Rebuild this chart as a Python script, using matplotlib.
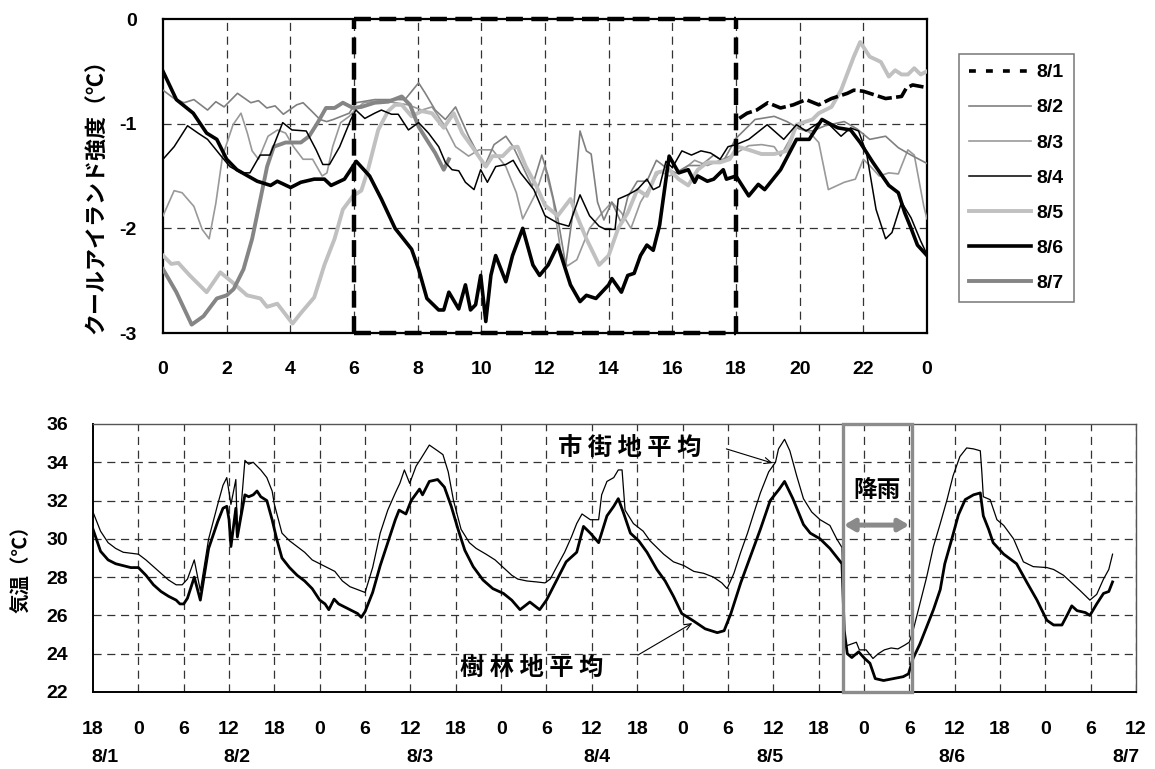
import matplotlib
matplotlib.use("Agg")
import matplotlib.pyplot as plt
from matplotlib.lines import Line2D
from matplotlib.patches import Rectangle

# ---------------- data: top chart (cool island intensity, hour of day) ----------------
t_81 = [18.1, 18.35, 18.65, 19.0, 19.4, 19.8, 20.2, 20.6, 21.0, 21.5, 21.7, 22.0, 22.3, 22.7, 23.2, 23.35, 23.55, 23.9]
v_81 = [-0.95, -0.9, -0.87, -0.8, -0.85, -0.82, -0.77, -0.82, -0.76, -0.71, -0.68, -0.69, -0.72, -0.76, -0.74, -0.66, -0.63, -0.65]

t_82 = [0.0, 0.35, 0.66, 0.97, 1.4, 1.66, 1.92, 2.34, 2.76, 3.0, 3.26, 3.52, 3.78, 4.2, 4.4, 4.67, 4.93, 5.14, 5.35, 5.6,
        5.85, 6.06, 6.65, 7.08, 7.6, 8.03, 8.24, 8.55, 8.87, 9.19, 9.6, 9.93, 10.1, 10.4, 10.77, 11.0, 11.3, 11.6, 11.9,
        12.1, 12.4, 12.65, 12.9, 13.1, 13.3, 13.45, 13.65, 13.85, 14.1, 14.4, 14.6, 14.9, 15.2, 15.5, 15.8, 16.1, 16.5,
        16.9, 17.3, 17.6, 18.0, 18.6, 19.2, 19.6, 20.0, 20.4, 20.8, 21.4, 21.8, 22.2, 22.7, 23.1, 23.5, 24.0]
v_82 = [-0.68, -0.76, -0.8, -0.77, -0.87, -0.79, -0.84, -0.71, -0.8, -0.78, -0.85, -0.83, -0.91, -0.82, -0.8, -0.88,
        -0.96, -0.98, -0.96, -0.93, -0.9, -0.8, -0.77, -0.77, -0.77, -0.61, -0.71, -0.87, -0.96, -0.84, -1.12, -1.31,
        -1.41, -1.2, -1.12, -1.22, -1.41, -1.6, -1.3, -1.5, -1.9, -2.35, -1.8, -1.07, -1.26, -1.29, -1.75, -1.92, -1.75,
        -1.95, -1.7, -1.55, -1.55, -1.35, -1.42, -1.47, -1.4, -1.4, -1.3, -1.36, -1.14, -0.96, -0.93, -0.98, -1.05,
        -1.07, -1.02, -0.98, -1.05, -1.15, -1.12, -1.23, -1.3, -1.38]

t_83 = [0.0, 0.35, 0.6, 0.97, 1.23, 1.45, 1.66, 1.87, 2.2, 2.45, 2.65, 2.8, 3.0, 3.3, 3.6, 3.85, 4.1, 4.4, 4.7, 5.0,
        5.15, 5.33, 5.58, 5.85, 6.0, 6.3, 6.8, 7.3, 7.7, 8.13, 8.45, 8.87, 9.19, 9.6, 9.93, 10.35, 10.77, 11.1, 11.3,
        11.72, 11.99, 12.25, 12.5, 12.7, 13.0, 13.4, 13.8, 14.1, 14.4, 14.7, 15.0, 15.3, 15.6, 15.9, 16.3, 16.7, 17.1,
        17.5, 17.9, 18.4, 18.8, 19.2, 19.4, 19.6, 19.9, 20.3, 20.6, 20.9, 21.4, 21.75, 22.0, 22.2, 22.5, 22.8, 23.1,
        23.4, 23.6, 23.9, 24.0]
v_83 = [-1.88, -1.64, -1.66, -1.79, -2.01, -2.1, -1.76, -1.31, -1.01, -0.9, -1.09, -1.26, -1.34, -1.12, -1.06, -1.09,
        -1.22, -1.34, -1.34, -1.5, -1.47, -1.22, -0.99, -0.93, -0.88, -0.8, -0.78, -0.8, -0.82, -0.87, -0.84, -1.03,
        -1.22, -1.31, -1.25, -1.25, -1.41, -1.66, -1.91, -1.66, -1.41, -1.72, -2.23, -2.36, -2.3, -2.0, -1.85, -1.75,
        -1.85, -2.0, -1.75, -1.6, -1.45, -1.5, -1.45, -1.35, -1.4, -1.35, -1.3, -1.21, -1.2, -1.22, -1.31, -1.2,
        -1.04, -1.08, -1.18, -1.63, -1.56, -1.53, -1.34, -1.4, -1.5, -1.47, -1.48, -1.25, -1.3, -1.79, -1.91]

t_84 = [0.0, 0.35, 0.77, 1.1, 1.4, 1.8, 2.1, 2.45, 2.73, 3.05, 3.36, 3.76, 4.05, 4.5, 4.81, 5.02, 5.23, 5.55, 5.9,
        6.06, 6.34, 6.65, 6.86, 7.18, 7.39, 7.71, 8.03, 8.34, 8.66, 8.87, 9.08, 9.29, 9.5, 9.77, 9.98, 10.19, 10.45,
        10.77, 11.0, 11.23, 11.65, 12.0, 12.4, 12.75, 13.1, 13.4, 13.7, 13.9, 14.2, 14.3, 14.6, 14.9, 15.2, 15.4,
        15.6, 15.8, 16.0, 16.3, 16.6, 16.9, 17.2, 17.5, 17.75, 18.0, 18.4, 18.98, 19.5, 19.9, 20.2, 20.76, 21.0,
        21.3, 21.6, 21.85, 22.1, 22.4, 22.7, 22.9, 23.2, 23.5, 23.8, 24.0]
v_84 = [-1.34, -1.22, -1.02, -1.09, -1.15, -1.3, -1.41, -1.47, -1.47, -1.3, -1.3, -0.99, -1.06, -1.07, -1.25, -1.39,
        -1.39, -1.22, -0.96, -0.87, -0.95, -0.9, -0.87, -0.91, -0.91, -1.06, -0.99, -1.09, -1.22, -1.37, -1.44, -1.45,
        -1.56, -1.63, -1.44, -1.56, -1.41, -1.39, -1.35, -1.47, -1.63, -1.88, -1.95, -1.98, -1.68, -1.88, -1.98,
        -2.01, -2.01, -1.72, -1.68, -1.63, -1.53, -1.63, -1.6, -1.36, -1.42, -1.26, -1.3, -1.26, -1.28, -1.34, -1.22,
        -1.2, -1.15, -1.01, -1.15, -1.01, -1.07, -0.96, -1.03, -1.12, -1.04, -1.07, -1.28, -1.82, -2.1, -2.04, -1.75,
        -1.9, -2.12, -2.25]

t_85 = [0, 0.26, 0.48, 0.84, 1.37, 1.8, 2.16, 2.64, 3.06, 3.27, 3.59, 4.07, 4.33, 4.75, 5.07, 5.39, 5.65, 5.97, 6.23,
        6.44, 6.76, 7.07, 7.29, 7.5, 7.81, 8.13, 8.45, 8.82, 9.13, 9.4, 9.71, 10.14, 10.35, 10.67, 10.93, 11.14, 11.4,
        11.72, 12.0, 12.4, 12.8, 13.0, 13.3, 13.7, 14.0, 14.3, 14.6, 14.9, 15.2, 15.5, 15.9, 16.2, 16.5, 16.8, 17.1,
        17.5, 17.8, 18.05, 18.4, 18.8, 19.2, 19.6, 19.9, 20.4, 20.6, 21.0, 21.3, 21.7, 21.9, 22.2, 22.55, 22.8, 23.0,
        23.2, 23.4, 23.6, 23.8, 24.0]
v_85 = [-2.26, -2.34, -2.33, -2.45, -2.61, -2.42, -2.51, -2.64, -2.67, -2.75, -2.72, -2.91, -2.81, -2.66, -2.35,
        -2.1, -1.82, -1.69, -1.64, -1.44, -1.06, -0.88, -0.82, -0.82, -0.93, -0.88, -0.9, -1.04, -0.9, -1.09, -1.22,
        -1.41, -1.31, -1.31, -1.23, -1.22, -1.41, -1.59, -1.78, -1.88, -1.72, -1.88, -2.1, -2.35, -2.26, -2.0, -1.85,
        -1.63, -1.69, -1.47, -1.44, -1.53, -1.59, -1.44, -1.37, -1.37, -1.34, -1.22, -1.25, -1.29, -1.29, -1.26,
        -1.01, -0.96, -0.9, -0.84, -0.68, -0.36, -0.22, -0.36, -0.41, -0.55, -0.49, -0.53, -0.53, -0.47, -0.53, -0.5]

t_86 = [0, 0.42, 0.95, 1.37, 1.69, 2.0, 2.32, 2.96, 3.38, 3.59, 4.01, 4.33, 4.75, 5.07, 5.28, 5.7, 6.07, 6.49, 6.86,
        7.29, 7.81, 8.03, 8.29, 8.66, 8.82, 8.98, 9.29, 9.5, 9.66, 9.82, 9.98, 10.14, 10.3, 10.45, 10.77, 10.98, 11.3,
        11.62, 11.83, 12.1, 12.4, 12.8, 13.1, 13.3, 13.6, 14.0, 14.1, 14.4, 14.6, 14.8, 15.0, 15.2, 15.4, 15.6, 15.9,
        16.2, 16.5, 16.7, 16.8, 17.1, 17.3, 17.6, 17.7, 18.0, 18.4, 18.7, 18.9, 19.4, 19.9, 20.3, 20.7, 21.0, 21.2,
        21.6, 21.9, 22.3, 22.8, 23.1, 23.3, 23.5, 23.7, 24.0]
v_86 = [-0.5, -0.77, -0.9, -1.09, -1.15, -1.34, -1.44, -1.55, -1.59, -1.55, -1.61, -1.56, -1.53, -1.53, -1.59, -1.53,
        -1.36, -1.5, -1.72, -2.0, -2.2, -2.39, -2.67, -2.78, -2.78, -2.61, -2.77, -2.54, -2.78, -2.73, -2.45, -2.89,
        -2.45, -2.26, -2.51, -2.26, -2.0, -2.35, -2.45, -2.35, -2.16, -2.54, -2.7, -2.64, -2.67, -2.54, -2.48, -2.61,
        -2.45, -2.43, -2.26, -2.16, -2.21, -1.97, -1.31, -1.47, -1.44, -1.56, -1.5, -1.55, -1.53, -1.44, -1.53, -1.5,
        -1.69, -1.58, -1.63, -1.44, -1.15, -1.15, -0.96, -1.01, -1.04, -1.06, -1.18, -1.37, -1.59, -1.66, -1.85, -2.0,
        -2.16, -2.26]

t_87 = [0, 0.42, 0.9, 1.27, 1.69, 2.0, 2.22, 2.53, 2.8, 3.06, 3.27, 3.48, 3.85, 4.33, 4.59, 4.86, 5.12, 5.39, 5.65,
        5.97, 6.23, 6.65, 7.08, 7.5, 7.76, 8.03, 8.34, 8.55, 8.82, 8.98]
v_87 = [-2.39, -2.61, -2.92, -2.84, -2.67, -2.64, -2.58, -2.39, -2.1, -1.72, -1.41, -1.22, -1.18, -1.18, -1.12, -0.99,
        -0.85, -0.85, -0.8, -0.85, -0.84, -0.8, -0.79, -0.74, -0.82, -1.03, -1.18, -1.28, -1.44, -1.34]

top_xticks = [0, 2, 4, 6, 8, 10, 12, 14, 16, 18, 20, 22, 24]
top_xticklabels = ['0', '2', '4', '6', '8', '10', '12', '14', '16', '18', '20', '22', '0']
top_yticks = [0, -1, -2, -3]
series_labels = ['8/1', '8/2', '8/3', '8/4', '8/5', '8/6', '8/7']

# ---------------- data: bottom chart (air temperature, hours since 8/1 0:00) ----------------
t_urban = [18, 19, 20, 21, 22, 23, 24, 25, 26, 27, 28, 29, 29.8, 30.5, 31.4, 32.2, 33.3, 34.5, 35.2, 35.7, 36.25,
           36.9, 37.1, 37.5, 38.1, 38.6, 39.2, 40.2, 41.0, 41.7, 42, 43, 44, 45, 46, 47, 48, 49, 50, 51, 52, 53, 54,
           55, 56, 57, 58, 58.6, 59.2, 59.9, 60.75, 61.4, 62.5, 63.6, 64.3, 65.0, 65.7, 66.7, 67.8, 68.7, 70.0, 71.2,
           72.3, 73.4, 74.2, 75.4, 76.7, 77.8, 78.5, 79.3, 80.4, 81.3, 82.0, 82.7, 83.8, 84.9, 85.3, 86.0, 86.9, 87.5,
           88.0, 88.4, 89.5, 90.8, 91.7, 93.5, 94.8, 96.2, 97.5, 98.8, 100.1, 101.2, 101.9, 102.8, 103.7, 104.6, 105.4,
           106.3, 107.4, 108.3, 108.7, 109.5, 110.2, 111.1, 112.0, 113.1, 114.2, 115.5, 116.4, 117.1, 117.35, 117.6,
           118.3, 119.0, 119.4, 120.3, 121.2, 121.9, 122.7, 123.6, 124.5, 125.4, 126.0, 126.5, 127.4, 128.3, 129.2,
           130.1, 131.0, 131.8, 132.7, 133.6, 134.5, 135.4, 135.6, 135.8, 136.7, 137.6, 138.5, 139.8, 141.1, 142.4,
           144.2, 145.1, 146.4, 147.5, 148.6, 149.9, 150.8, 151.7, 152.4, 152.9]
v_urban = [31.4, 30.4, 29.8, 29.5, 29.3, 29.25, 29.2, 28.9, 28.55, 28.2, 27.85, 27.6, 27.6, 27.9, 28.9, 27.3, 30.0,
           31.8, 32.8, 33.2, 31.8, 33.1, 30.2, 31.2, 34.1, 33.9, 34.0, 33.6, 33.2, 32.5, 31.8, 30.3, 29.9, 29.6, 29.3,
           28.9, 28.7, 28.5, 28.3, 27.8, 27.5, 27.35, 27.2, 28.5, 30.3, 31.5, 32.4, 32.9, 33.6, 32.9, 33.8, 34.2, 34.9,
           34.6, 34.4, 33.5, 32.0, 30.5, 29.8, 29.5, 29.2, 28.9, 28.5, 28.1, 27.9, 27.8, 27.75, 27.7, 27.9, 28.5, 29.3,
           30.1, 30.8, 31.3, 31.0, 31.0, 32.3, 33.0, 33.2, 33.6, 33.6, 31.5, 30.8, 30.4, 29.9, 29.2, 28.8, 28.6, 28.3,
           28.2, 28.0, 27.7, 27.4, 28.2, 29.3, 30.3, 31.3, 32.4, 33.5, 34.0, 34.7, 35.2, 34.6, 33.3, 32.1, 31.4, 31.0,
           30.7, 30.0, 29.55, 25.5, 24.4, 24.5, 24.6, 24.2, 24.2, 23.75, 24.0, 24.2, 24.3, 24.25, 24.45, 24.6, 25.2,
           26.6, 28.0, 29.6, 30.8, 32.05, 33.3, 34.3, 34.75, 34.7, 34.6, 33.5, 32.2, 32.05, 31.0, 30.7, 30.0, 28.8,
           28.55, 28.5, 28.4, 28.1, 27.7, 27.3, 26.8, 27.1, 27.9, 28.4, 29.2]

t_forest = [18, 19, 20, 21, 22, 23, 24, 25, 26, 27, 28, 29, 29.5, 30, 30.5, 31.4, 32.2, 33.3, 34.5, 35.2, 35.7, 36.0,
            36.25, 36.9, 37.1, 37.5, 38.1, 38.6, 39.2, 39.7, 40.2, 41.0, 41.7, 42.3, 43, 44, 45, 46, 47, 48, 48.7,
            49.2, 49.9, 50.5, 51, 52, 53, 53.5, 54, 55, 56, 57, 58, 58.5, 59.4, 60.1, 61.2, 61.6, 62.5, 63.6, 64.5,
            65.4, 66.3, 67.2, 68.3, 69.6, 70.9, 72.3, 73.4, 74.5, 75.8, 77.1, 78.0, 79.3, 80.6, 82.0, 82.9, 83.8,
            84.9, 86.0, 86.9, 87.5, 88.2, 89.1, 90.2, 91.3, 92.6, 93.7, 94.8, 95.9, 97.5, 99.0, 100.6, 101.5, 102.4,
            103.7, 105.0, 106.3, 107.6, 108.8, 109.5, 110.6, 112.0, 112.9, 114.2, 115.5, 117.1, 117.4, 117.8, 118.4,
            119.3, 120.1, 120.8, 121.5, 122.6, 123.9, 125.2, 125.9, 126.5, 127.4, 128.3, 129.2, 130.1, 130.7, 131.6,
            132.5, 133.4, 134.5, 135.4, 135.8, 136.5, 137.1, 138.5, 140.2, 141.6, 142.9, 144.2, 145.1, 146.2, 147.0,
            147.5, 148.2, 149.3, 149.9, 150.8, 151.7, 152.4, 152.9]
v_forest = [30.5, 29.35, 28.9, 28.7, 28.6, 28.5, 28.5, 28.1, 27.6, 27.25, 27.0, 26.8, 26.6, 26.6, 26.9, 28.0, 26.8,
            29.5, 30.9, 31.6, 31.7, 31.0, 29.6, 31.6, 30.1, 31.0, 32.3, 32.2, 32.3, 32.5, 32.2, 32.0, 31.0, 30.0, 29.0,
            28.5, 28.1, 27.8, 27.4, 26.8, 26.6, 26.3, 26.85, 26.6, 26.5, 26.3, 26.1, 25.9, 26.2, 27.2, 28.6, 29.8, 31.0,
            31.5, 31.3, 32.0, 32.6, 32.3, 33.0, 33.1, 32.7, 31.7, 30.5, 29.4, 28.55, 27.85, 27.4, 27.15, 26.8, 26.3,
            26.7, 26.3, 26.8, 27.8, 28.8, 29.3, 30.65, 30.3, 29.8, 31.2, 31.7, 32.1, 31.35, 30.3, 29.9, 29.3, 28.4,
            27.8, 27.0, 26.1, 25.7, 25.3, 25.1, 25.2, 26.1, 27.7, 29.1, 30.5, 32.0, 32.6, 33.0, 32.1, 30.75, 30.3, 30.0,
            29.5, 28.7, 25.2, 24.0, 23.8, 24.1, 23.75, 23.5, 22.7, 22.6, 22.7, 22.8, 22.95, 23.75, 24.5, 25.4, 26.3,
            27.35, 28.7, 29.95, 31.25, 32.05, 32.3, 32.4, 31.2, 30.5, 29.8, 29.2, 28.7, 27.7, 26.8, 25.75, 25.5, 25.5,
            26.1, 26.5, 26.25, 26.15, 26.0, 26.6, 27.15, 27.25, 27.75]

bottom_xticks = list(range(18, 157, 6))
bottom_xticklabels = ['18', '0', '6', '12', '18', '0', '6', '12', '18', '0', '6', '12',
                      '18', '0', '6', '12', '18', '0', '6', '12', '18', '0', '6', '12']
bottom_yticks = [22, 24, 26, 28, 30, 32, 34, 36]
date_labels = ['8/1', '8/2', '8/3', '8/4', '8/5', '8/6', '8/7']
rain_period = (117.2, 126.3)

# ---------------- drawing ----------------
W, H = 1155, 769
fig = plt.figure(figsize=(W / 100, H / 100), dpi=100)
LAT = ['Liberation Sans', 'DejaVu Sans']
JP = ['Noto Sans CJK JP', 'DejaVu Sans']
FS = 14
grid_kw = dict(color='#333333', lw=0.9, ls=(0, (6.5, 4.5)))

# ---- top axes
ax1 = fig.add_axes([163 / W, 1 - 333 / H, 764 / W, 314 / H])
ax1.set_xlim(0, 24)
ax1.set_ylim(-3, 0)
ax1.set_xticks(top_xticks)
ax1.set_xticklabels(top_xticklabels)
ax1.set_yticks(top_yticks)
ax1.set_yticklabels(['0', '-1', '-2', '-3'])
ax1.tick_params(axis='both', length=0, labelsize=FS)
ax1.tick_params(axis='x', pad=20.5)
ax1.tick_params(axis='y', pad=19)
for lab in ax1.get_xticklabels() + ax1.get_yticklabels():
    lab.set_fontfamily(LAT)
    lab.set_fontweight('bold')
for x in top_xticks[1:-1]:
    ax1.axvline(x, **grid_kw, zorder=1)
for y in [-1, -2]:
    ax1.axhline(y, **grid_kw, zorder=1)
for s in ax1.spines.values():
    s.set_linewidth(1.6)
    s.set_color('black')

styles = [
    dict(color='black', lw=2.6, ls=(0, (4.0, 1.2))),
    dict(color='#808080', lw=1.2, ls='-'),
    dict(color='#999999', lw=1.2, ls='-'),
    dict(color='black', lw=1.1, ls='-'),
    dict(color='#c0c0c0', lw=2.8, ls='-'),
    dict(color='black', lw=2.6, ls='-'),
    dict(color='#858585', lw=2.8, ls='-'),
]
series = [(t_81, v_81), (t_82, v_82), (t_83, v_83), (t_84, v_84), (t_85, v_85), (t_86, v_86), (t_87, v_87)]
order = [2, 1, 4, 6, 3, 5, 0]
for i in order:
    t, v = series[i]
    ax1.plot(t, v, zorder=3 + order.index(i), solid_joinstyle='round', **styles[i])

# dashed daytime box 6-18h
box_kw = dict(color='black', lw=3.2, ls=(0, (3.8, 1.9)), clip_on=False, zorder=12)
ax1.plot([6, 6], [-3, 0], **box_kw)
ax1.plot([18, 18], [-3, 0], **box_kw)
ax1.plot([6, 18], [0, 0], **box_kw)
ax1.plot([6, 18], [-3, -3], **box_kw)

fig.text(97 / W, 1 - 191 / H, 'クールアイランド強度（℃）', rotation=90, ha='center', va='center',
         fontfamily=JP, fontweight='bold', fontsize=15.8)

leg_styles = [dict(s) for s in styles]
leg_styles[0]['ls'] = (0, (1.9, 2.8))
handles = [Line2D([0], [0], **s) for s in leg_styles]
leg = ax1.legend(handles, series_labels, loc='upper left', bbox_to_anchor=(959 / W, 1 - 54 / H),
                 bbox_transform=fig.transFigure, frameon=True, fancybox=False, handlelength=3.2,
                 handletextpad=0.3, labelspacing=0.9, borderpad=0.5, borderaxespad=0,
                 prop={'family': LAT, 'weight': 'bold', 'size': FS})
leg.get_frame().set_edgecolor('#555555')
leg.get_frame().set_linewidth(1.1)

# ---- bottom axes
ax2 = fig.add_axes([93 / W, 1 - 692 / H, 1043 / W, 268 / H])
ax2.set_xlim(18, 156)
ax2.set_ylim(22, 36)
ax2.set_xticks(bottom_xticks)
ax2.set_xticklabels(bottom_xticklabels)
ax2.set_yticks(bottom_yticks)
ax2.tick_params(axis='both', length=0, labelsize=FS)
ax2.tick_params(axis='x', pad=21)
ax2.tick_params(axis='y', pad=18)
for lab in ax2.get_xticklabels() + ax2.get_yticklabels():
    lab.set_fontfamily(LAT)
    lab.set_fontweight('bold')
for x in bottom_xticks[1:]:
    ax2.axvline(x, **grid_kw, zorder=1)
for y in bottom_yticks[1:-1]:
    ax2.axhline(y, **grid_kw, zorder=1)
for s in ax2.spines.values():
    s.set_linewidth(1.4)
ax2.spines['top'].set_color('#555555')
ax2.spines['right'].set_color('#555555')
ax2.spines['top'].set_linewidth(1.0)
ax2.spines['right'].set_linewidth(1.0)

ax2.plot(t_urban, v_urban, color='black', lw=0.9, zorder=4)
ax2.plot(t_forest, v_forest, color='black', lw=2.0, zorder=5)

date_pos = [19.6, 37.1, 61.3, 84.7, 107.6, 131.6, 154.7]
for d, x in zip(date_labels, date_pos):
    ax2.text(x, -0.245, d, transform=ax2.get_xaxis_transform(), ha='center', va='center',
             fontfamily=LAT, fontweight='bold', fontsize=FS)

fig.text(22 / W, 1 - 564 / H, '気温（℃）', rotation=90, ha='center', va='center',
         fontfamily=JP, fontweight='bold', fontsize=14)

# rain box
ax2.add_patch(Rectangle((rain_period[0], 22), rain_period[1] - rain_period[0], 14, fill=False,
                        edgecolor='#8c8c8c', lw=2.4, zorder=8, clip_on=False))
ax2.annotate('', xy=(rain_period[0] + 0.15, 30.72), xytext=(rain_period[1] - 0.3, 30.72),
             arrowprops=dict(arrowstyle='<|-|>,head_length=0.6,head_width=0.35', lw=3.6,
                             color='#8a8a8a', shrinkA=0, shrinkB=0), zorder=9)
ax2.text(121.7, 32.55, '降雨', ha='center', va='center', fontfamily=JP, fontweight='bold', fontsize=17,
         zorder=9)

ax2.text(89.0, 34.75, '市 街 地 平 均', ha='center', va='center', fontfamily=JP, fontweight='bold',
         fontsize=17.5, zorder=9)
ax2.annotate('', xy=(107.9, 33.96), xytext=(101.8, 34.7),
             arrowprops=dict(arrowstyle='->,head_length=0.5,head_width=0.22', lw=0.8, color='black',
                             shrinkA=0, shrinkB=0), zorder=9)
ax2.text(76.0, 23.25, '樹 林 地 平 均', ha='center', va='center', fontfamily=JP, fontweight='bold',
         fontsize=17.5, zorder=9)
ax2.annotate('', xy=(97.3, 25.6), xytext=(90.1, 23.93),
             arrowprops=dict(arrowstyle='->,head_length=0.5,head_width=0.22', lw=0.8, color='black',
                             shrinkA=0, shrinkB=0), zorder=9)

fig.savefig('out.png', dpi=100)
